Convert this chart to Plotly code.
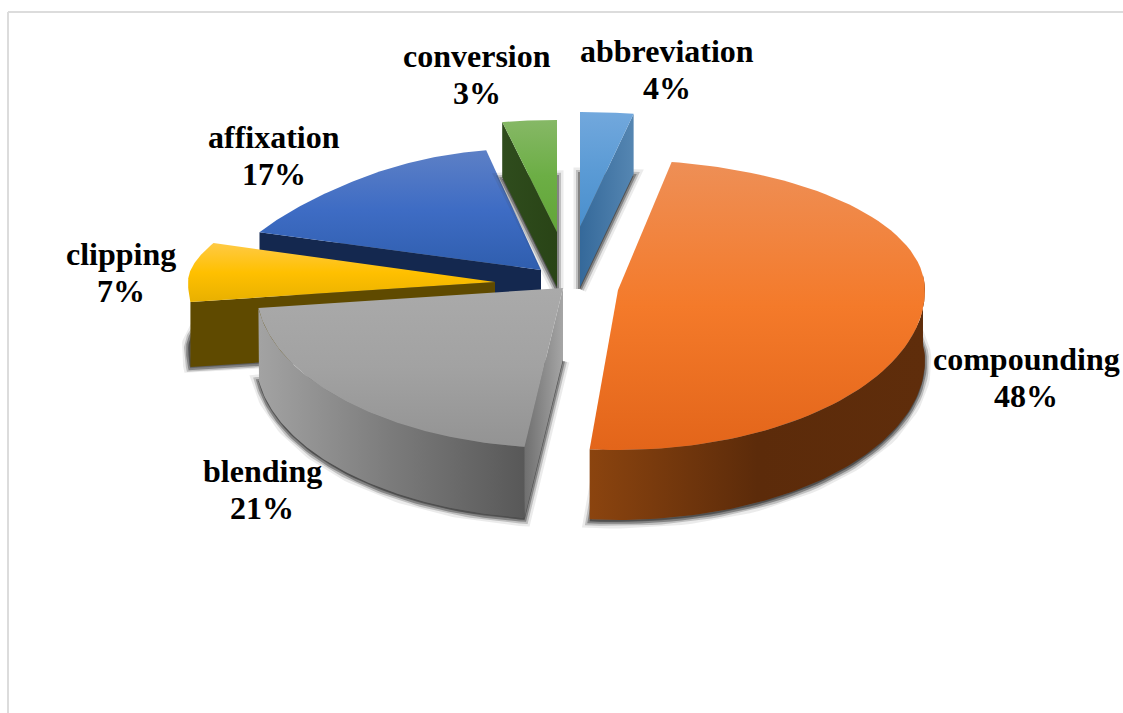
import numpy as np
import plotly.graph_objects as go

# --- chart values ---
categories = ["abbreviation", "compounding", "blending", "clipping", "affixation", "conversion"]
shares = [4, 48, 21, 7, 17, 3]

# --- appearance (per category, same order) ---
pull_x = [15, 53, -2, -70, -24, -8]
pull_y = [-61, 2, 0, -6, -18, -56]
far_radius = [115, 130, 130, 126, 122, 112]
depth = [60, 70, 71, 65, 55, 55]
near_warp = [0, 1.9, 0, 0, 0, 0]
top_colors = [
    ["#72a8dd", "#5b9bd5", "#4a8fcd"],
    ["#ee8f56", "#f47a2a", "#e3651a"],
    ["#aaaaaa", "#a2a2a2", "#939393"],
    ["#ffca45", "#ffc000", "#e8b000"],
    ["#5d80c6", "#3e6cc4", "#2f5eae"],
    ["#86b866", "#6cae45", "#62a538"],
]
side_colors = [
    ["#35699a", "#5586b2"],
    None,
    ["#6f6f6f", "#a6a6a6"],
    ["#5f4a00", "#5f4a00"],
    ["#14284f", "#14284f"],
    ["#2f4c1d", "#294416"],
]
side_edge = [1, None, 0, 0, 0, 0]
outer_from = [None, 85, 187.2, None, None, None]
outer_colors = [
    None,
    ["#8b440f", "#5c2b0a", "#5f2d0b"],
    ["#a3a3a3", "#7b7b7b", "#585858"],
    None, None, None,
]
draw_order = [0, 4, 5, 3, 2, 1]
label_x = [667, 477, 274, 121, 262, 1026]
label_y = [69, 74, 155, 272, 489, 377]
label_order = ["abbreviation", "conversion", "affixation", "clipping", "blending", "compounding"]

CX, CY = 565, 288
A, B_NEAR = 307, 160


def rim(theta_deg, i):
    t = np.asarray(theta_deg, dtype=float)
    warp = np.where(t < 90, 9 * np.sin(np.radians(2 * t)), 0.0)
    warp = warp + np.where((t > 90) & (t <= 190), near_warp[i] * (t - 90) / 97.2, 0.0)
    u = t - 270
    left = np.where(u > 0, 11.7 * np.sin(np.radians(2 * u)) * (1 - u / 90), 0.0)
    X = np.sin(np.radians(t - warp + left))
    Y = np.cos(np.radians(t - warp))
    b = np.where(Y > 0, far_radius[i], B_NEAR)
    return CX + pull_x[i] + A * X, CY + pull_y[i] - b * Y


def scale(cols):
    n = len(cols)
    return [[k / (n - 1), c] for k, c in enumerate(cols)]


fig = go.Figure()


def poly(x, y, cols, kind, name):
    fig.add_trace(go.Scatter(
        x=list(x) + [x[0]], y=list(y) + [y[0]], mode="lines", fill="toself",
        fillgradient=dict(type=kind, colorscale=scale(cols)),
        line=dict(width=0), name=name, hoverinfo="name", showlegend=False))


total = sum(shares)
starts = np.cumsum([0] + shares[:-1]) / total * 360
ends = np.cumsum(shares) / total * 360

for i in draw_order:
    name = categories[i]
    a0, a1 = starts[i], ends[i]
    th = np.linspace(a0, a1, 90)
    rx, ry = rim(th, i)
    ax, ay = CX + pull_x[i], CY + pull_y[i]
    d = depth[i]
    fx = np.r_[ax, rx]
    fy = np.r_[ay, ry]

    # soft cast shadow: the slice footprint one thickness lower
    sx = np.r_[fx, fx[0]]
    sy = np.r_[fy, fy[0]] + d + 2
    for w, alpha in [(13, 0.10), (8, 0.25), (4, 0.45)]:
        fig.add_trace(go.Scatter(
            x=sx, y=sy, mode="lines", fill="toself", fillcolor="rgba(60,60,60,0.35)",
            line=dict(color=f"rgba(60,60,60,{alpha})", width=w),
            hoverinfo="skip", showlegend=False))

    # straight cut wall
    if side_edge[i] is not None:
        ex, ey = (rx[-1], ry[-1]) if side_edge[i] == 1 else (rx[0], ry[0])
        poly([ax, ex, ex, ax], [ay, ey, ey + d, ay + d], side_colors[i], "horizontal", name)

    # curved outer wall
    if outer_from[i] is not None:
        w = np.linspace(outer_from[i], a1, 90)
        wx, wy = rim(w, i)
        poly(np.r_[wx, wx[::-1]], np.r_[wy, wy[::-1] + d], outer_colors[i], "horizontal", name)

    # top face (the y axis runs downward, so the colour ramp is flipped)
    poly(fx, fy, top_colors[i][::-1], "vertical", name)

annotations = []
for n, x, y in zip(label_order, label_x, label_y):
    v = shares[categories.index(n)]
    for txt, yy in ((n, y - 18.5), (f"{v}%", y + 18.5)):
        annotations.append(dict(
            x=x, y=yy, xref="x", yref="y", text=f"<b>{txt}</b>", showarrow=False,
            align="center", font=dict(family="Liberation Serif", size=32, color="#000000")))

fig.update_layout(
    width=1123, height=713, margin=dict(l=0, r=0, t=0, b=0),
    paper_bgcolor="#ffffff", plot_bgcolor="#ffffff", showlegend=False,
    xaxis=dict(range=[0, 1123], visible=False, fixedrange=True),
    yaxis=dict(range=[713, 0], visible=False, fixedrange=True),
    annotations=annotations,
    shapes=[
        dict(type="line", xref="x", yref="y", x0=8, x1=1123, y0=12, y1=12,
             line=dict(color="#dcdcdc", width=2)),
        dict(type="line", xref="x", yref="y", x0=8, x1=8, y0=12, y1=713,
             line=dict(color="#dcdcdc", width=2)),
    ],
)
fig.write_html("out.html", config={"displayModeBar": False},
               post_script="document.body.style.margin='0';")
